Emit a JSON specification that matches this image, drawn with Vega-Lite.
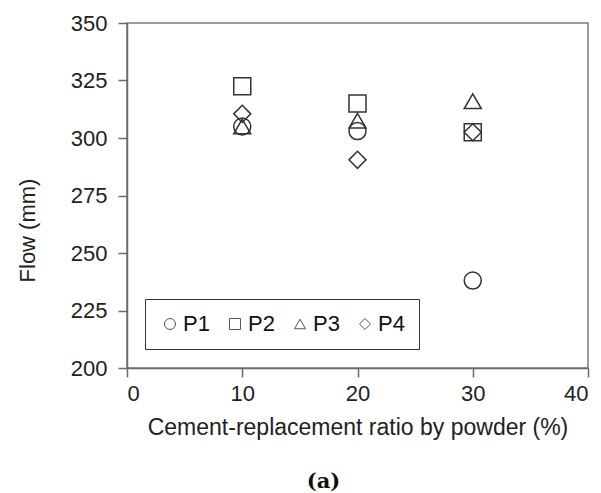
{
  "$schema": "https://vega.github.io/schema/vega-lite/v6.json",
  "width": 461,
  "height": 345,
  "autosize": {"type": "none"},
  "padding": {"left": 127, "top": 23, "right": 13, "bottom": 125},
  "background": "white",
  "config": {
    "font": "Liberation Sans",
    "view": {"stroke": "#7a7a7a", "strokeWidth": 1.5},
    "axis": {
      "grid": false,
      "domainColor": "#6a6a6a",
      "domainWidth": 1.5,
      "tickColor": "#6a6a6a",
      "tickWidth": 1.5,
      "tickSize": 9,
      "labelFont": "Liberation Sans",
      "labelFontSize": 22,
      "labelColor": "#222222",
      "titleFont": "Liberation Sans",
      "titleFontSize": 23,
      "titleFontWeight": "normal",
      "titleColor": "#222222"
    }
  },
  "title": {
    "text": "(a)",
    "orient": "bottom",
    "anchor": "middle",
    "font": "DejaVu Serif",
    "fontSize": 21,
    "fontWeight": "bold",
    "color": "#111111",
    "dx": -34,
    "offset": 32
  },
  "data": {
    "values": [
      {"ratio": 10, "flow": 305, "series": "P1"},
      {"ratio": 20, "flow": 303, "series": "P1"},
      {"ratio": 30, "flow": 238, "series": "P1"},
      {"ratio": 10, "flow": 322.5, "series": "P2"},
      {"ratio": 20, "flow": 315, "series": "P2"},
      {"ratio": 30, "flow": 302.5, "series": "P2"},
      {"ratio": 10, "flow": 305, "series": "P3"},
      {"ratio": 20, "flow": 307.5, "series": "P3"},
      {"ratio": 30, "flow": 316, "series": "P3"},
      {"ratio": 10, "flow": 310.5, "series": "P4"},
      {"ratio": 20, "flow": 290.5, "series": "P4"},
      {"ratio": 30, "flow": 302.5, "series": "P4"}
    ]
  },
  "mark": {"type": "point", "filled": false, "stroke": "#333333", "strokeWidth": 1.5, "size": 290, "opacity": 1},
  "encoding": {
    "x": {
      "field": "ratio",
      "type": "quantitative",
      "title": "Cement-replacement ratio by powder (%)",
      "scale": {"domain": [0, 40], "nice": false, "zero": false},
      "axis": {"values": [0, 10, 20, 30, 40], "labelPadding": 6, "titlePadding": 12}
    },
    "y": {
      "field": "flow",
      "type": "quantitative",
      "title": "Flow (mm)",
      "scale": {"domain": [200, 350], "nice": false, "zero": false},
      "axis": {"values": [200, 225, 250, 275, 300, 325, 350], "labelPadding": 11, "titleX": -88, "titleY": 207, "titleBaseline": "bottom", "titleFontSize": 22}
    },
    "shape": {
      "field": "series",
      "type": "nominal",
      "scale": {"domain": ["P1", "P2", "P3", "P4"], "range": ["circle", "square", "triangle-up", "diamond"]},
      "legend": {
        "title": null,
        "orient": "none",
        "legendX": 18,
        "legendY": 276,
        "direction": "horizontal",
        "columns": 4,
        "strokeColor": "#333333",
        "padding": 14,
        "columnPadding": 14,
        "labelFont": "Liberation Sans",
        "labelFontSize": 22,
        "labelColor": "#111111",
        "labelOffset": 2,
        "symbolSize": 120,
        "symbolStrokeWidth": 1,
        "symbolStrokeColor": "#555555",
        "symbolFillColor": "transparent"
      }
    }
  }
}
